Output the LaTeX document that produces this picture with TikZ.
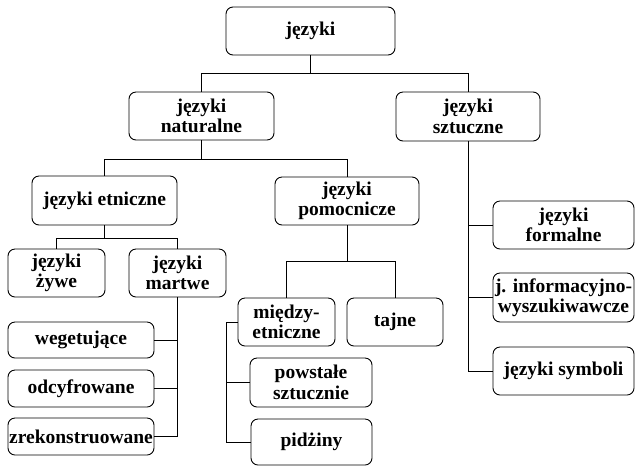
\documentclass[tikz,border=0pt]{standalone}
\usepackage{fontspec}
\setmainfont{Liberation Serif}
\begin{document}
\begin{tikzpicture}[x=1pt,y=-1pt,
  box/.style={draw, line width=0.9pt, rounded corners=7pt, align=center, inner sep=0pt,
    font=\fontsize{19.5}{20.5}\selectfont\bfseries},
  conn/.style={line width=0.9pt}]
\useasboundingbox (0,0) rectangle (636,467);
\node[box, minimum width=169pt, minimum height=48pt] (root) at (310.5,31) {języki};
\node[box, minimum width=145pt, minimum height=48pt] (nat) at (201.5,116) {języki\\naturalne};
\node[box, minimum width=144pt, minimum height=49pt] (szt) at (468,116.5) {języki\\sztuczne};
\node[box, minimum width=145pt, minimum height=49pt] (etn) at (104.5,200.5) {języki etniczne};
\node[box, minimum width=144pt, minimum height=48pt] (pom) at (347,201) {języki\\pomocnicze};
\node[box, minimum width=97pt, minimum height=48pt] (zyw) at (56.5,273) {języki\\żywe};
\node[box, minimum width=97pt, minimum height=48pt] (mar) at (177.5,273) {języki\\martwe};
\node[box, minimum width=146pt, minimum height=36pt] (weg) at (81,340) {wegetujące};
\node[box, minimum width=146pt, minimum height=37pt] (odc) at (81,388.5) {odcyfrowane};
\node[box, minimum width=146pt, minimum height=37pt] (zre) at (81,436.5) {zrekonstruowane};
\node[box, minimum width=97pt, minimum height=48pt] (mie) at (286.5,322) {między-\\etniczne};
\node[box, minimum width=96pt, minimum height=48pt] (taj) at (395,322) {tajne};
\node[box, minimum width=122pt, minimum height=49pt] (pow) at (311,382.5) {powstałe\\sztucznie};
\node[box, minimum width=121pt, minimum height=46pt] (pid) at (311.5,442) {pidżiny};
\node[box, minimum width=141pt, minimum height=48pt] (for) at (563.5,225) {języki\\formalne};
\node[box, minimum width=141pt, minimum height=49pt] (inf) at (563.5,297.5) {j. informacyjno-\\wyszukiwawcze};
\node[box, minimum width=141pt, minimum height=48pt] (sym) at (563.5,371) {języki symboli};
\coordinate (mx) at (226,322);
\draw[conn] (root) -- (root |- 0,73) -| (nat);
\draw[conn] (root |- 0,73) -| (szt);
\draw[conn] (nat) -- (nat |- 0,159) -| (etn);
\draw[conn] (nat |- 0,159) -| (pom);
\draw[conn] (etn) -- (etn |- 0,238) -| (zyw);
\draw[conn] (etn |- 0,238) -| (mar);
\draw[conn] (mar) |- (zre);
\draw[conn] (weg.east) -- (weg.east -| mar.south);
\draw[conn] (odc.east) -- (odc.east -| mar.south);
\draw[conn] (pom) -- (pom |- 0,261) -| (mie);
\draw[conn] (pom |- 0,261) -| (taj);
\draw[conn] (mie) -- (mx) |- (pid);
\draw[conn] (mx |- pow.west) -- (pow.west);
\draw[conn] (szt) |- (sym);
\draw[conn] (for.west) -- (for.west -| szt.south);
\draw[conn] (inf.west) -- (inf.west -| szt.south);
\end{tikzpicture}
\end{document}
